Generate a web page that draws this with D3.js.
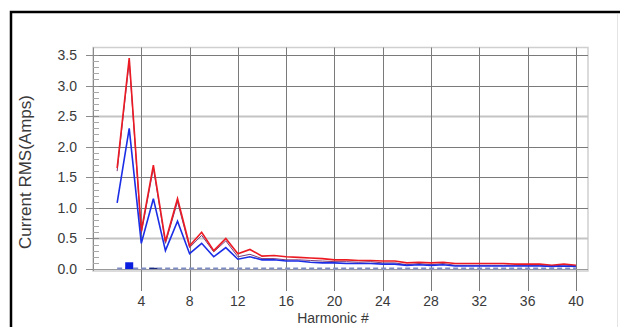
<!DOCTYPE html>
<html>
<head>
<meta charset="utf-8">
<script src="https://cdn.jsdelivr.net/npm/d3@7/dist/d3.min.js"></script>
<style>
  body { margin: 0; background: #fff; }
  svg { display: block; }
  text { font-family: "Liberation Sans", Arial, sans-serif; fill: #3a3a3a; }
</style>
</head>
<body>
<svg id="chart" width="620" height="327"></svg>
<script>
// harmonic numbers 2..40
var harmonics = d3.range(2, 41);
// phase currents (A rms)
var phaseA = [1.65, 3.45, 0.62, 1.70, 0.45, 1.15, 0.38, 0.60, 0.30, 0.50,
  0.25, 0.32, 0.21, 0.22, 0.20, 0.19, 0.18, 0.17, 0.15, 0.15,
  0.14, 0.14, 0.13, 0.13, 0.10, 0.11, 0.10, 0.11, 0.09, 0.09,
  0.09, 0.09, 0.09, 0.08, 0.08, 0.08, 0.06, 0.08, 0.06];
var phaseB = [1.60, 3.40, 0.58, 1.65, 0.42, 1.10, 0.35, 0.55, 0.28, 0.46,
  0.20, 0.24, 0.17, 0.17, 0.15, 0.15, 0.14, 0.13, 0.12, 0.12,
  0.11, 0.12, 0.10, 0.10, 0.07, 0.09, 0.07, 0.09, 0.06, 0.06,
  0.06, 0.06, 0.06, 0.06, 0.06, 0.06, 0.04, 0.07, 0.05];
var phaseC = [1.08, 2.30, 0.42, 1.15, 0.30, 0.78, 0.25, 0.42, 0.20, 0.35,
  0.16, 0.20, 0.15, 0.15, 0.13, 0.13, 0.11, 0.10, 0.10, 0.09,
  0.09, 0.09, 0.08, 0.08, 0.06, 0.07, 0.06, 0.07, 0.05, 0.05,
  0.05, 0.05, 0.05, 0.05, 0.05, 0.05, 0.04, 0.05, 0.04];
var neutral = [0.01, 0.11, 0.01, 0.02, 0.01, 0.01, 0.01, 0.01, 0.01, 0.01,
  0.01, 0.01, 0.01, 0.01, 0.01, 0.01, 0.01, 0.01, 0.01, 0.01,
  0.01, 0.01, 0.01, 0.01, 0.01, 0.01, 0.01, 0.01, 0.01, 0.01,
  0.01, 0.01, 0.01, 0.01, 0.01, 0.01, 0.01, 0.01, 0.01];
var xTicks = [4, 8, 12, 16, 20, 24, 28, 32, 36, 40];
var yTicks = [0, 0.5, 1, 1.5, 2, 2.5, 3, 3.5];

var svg = d3.select("#chart");
var x = d3.scaleLinear().domain([0, 41]).range([93, 588]);
var y = d3.scaleLinear().domain([0, 3.5]).range([269, 55]);
var plotTop = 47.5, plotBottom = 271;
var snap = function(v) { return Math.round(v) + 0.5; };

// outer frame
svg.append("rect").attr("x", 11).attr("y", 12).attr("width", 640).attr("height", 340)
  .attr("fill", "none").attr("stroke", "#000").attr("stroke-width", 2.5);
svg.append("line").attr("x1", 617.5).attr("x2", 617.5).attr("y1", 14).attr("y2", 327)
  .attr("stroke", "#e4e4e4");

// plot frame
svg.append("rect").attr("x", x.range()[0]).attr("y", plotTop)
  .attr("width", x.range()[1] - x.range()[0]).attr("height", plotBottom - plotTop)
  .attr("fill", "none").attr("stroke", "#cfcfcf").attr("stroke-width", 1.5);

// horizontal grid
svg.append("g").selectAll("line").data(yTicks.slice(1)).join("line")
  .attr("x1", x.range()[0]).attr("x2", x.range()[1])
  .attr("y1", function(d) { return snap(y(d)); })
  .attr("y2", function(d) { return snap(y(d)); })
  .attr("stroke", function(d) { return d === 2.5 || d === 0.5 ? "#c4c4c4" : "#7a7a7a"; })
  .attr("stroke-width", function(d) { return d === 2.5 || d === 0.5 ? 2 : 1; });

// vertical grid, running down through the tick area
svg.append("g").selectAll("line").data(xTicks).join("line")
  .attr("x1", function(d) { return snap(x(d)); })
  .attr("x2", function(d) { return snap(x(d)); })
  .attr("y1", plotTop).attr("y2", 291)
  .attr("stroke", "#7a7a7a");

// y axis with minor ticks
var yAxis = svg.append("g").attr("transform", "translate(" + x.range()[0] + ",0)");
yAxis.append("line").attr("x1", 0.5).attr("x2", 0.5).attr("y1", plotTop).attr("y2", plotBottom)
  .attr("stroke", "#8a8a8a");
yAxis.selectAll(".minor").data(d3.range(0, 3.55, 0.1)).join("line")
  .attr("class", "minor")
  .attr("x1", 0).attr("x2", 6)
  .attr("y1", function(d) { return snap(y(d)); })
  .attr("y2", function(d) { return snap(y(d)); })
  .attr("stroke", "#a8a8a8");
yAxis.selectAll(".major").data(yTicks).join("line")
  .attr("class", "major")
  .attr("x1", -7).attr("x2", 6)
  .attr("y1", function(d) { return snap(y(d)); })
  .attr("y2", function(d) { return snap(y(d)); })
  .attr("stroke", "#8a8a8a");
yAxis.selectAll("text").data(yTicks).join("text")
  .attr("x", -16).attr("y", function(d) { return y(d); })
  .attr("dy", "0.36em").attr("text-anchor", "end")
  .style("font-size", "14px")
  .text(d3.format(".1f"));

// x axis line (baseline) and labels
svg.append("line").attr("x1", x.range()[0]).attr("x2", x.range()[1])
  .attr("y1", y(0) + 0.5).attr("y2", y(0) + 0.5).attr("stroke", "#9a9a9a");
svg.append("g").selectAll("text").data(xTicks).join("text")
  .attr("x", function(d) { return x(d); }).attr("y", 306)
  .attr("text-anchor", "middle").style("font-size", "14px")
  .text(function(d) { return d; });

// axis titles
svg.append("text").attr("x", 333).attr("y", 323).attr("text-anchor", "middle")
  .style("font-size", "14px").text("Harmonic #");
svg.append("text").attr("transform", "translate(31,172) rotate(-90)")
  .attr("text-anchor", "middle").style("font-size", "17px").text("Current RMS(Amps)");

// neutral current: dashed trace and bars
svg.append("path").datum(harmonics)
  .attr("fill", "none").attr("stroke", "#7f8cc4").attr("stroke-width", 2)
  .attr("stroke-dasharray", "5,3")
  .attr("d", d3.line().x(function(h) { return x(h); }).y(function() { return y(0) - 0.5; }));
svg.append("g").selectAll("rect").data(harmonics.filter(function(h, i) { return neutral[i] > 0.015; }))
  .join("rect")
  .attr("x", function(h) { return x(h) - 4; })
  .attr("width", 8)
  .attr("y", function(h) { return y(neutral[h - 2]); })
  .attr("height", function(h) { return y(0) - y(neutral[h - 2]); })
  .attr("fill", function(h) { return h === 3 ? "#0a1ee0" : "#1a2a80"; });

// phase lines
var line = function(vals) {
  return d3.line()
    .x(function(h) { return x(h); })
    .y(function(h, i) { return y(vals[i]); })(harmonics);
};
svg.append("path").attr("d", line(phaseB)).attr("fill", "none")
  .attr("stroke", "#7a3a7a").attr("stroke-width", 1);
svg.append("path").attr("d", line(phaseA)).attr("fill", "none")
  .attr("stroke", "#ec1a22").attr("stroke-width", 1.6);
svg.append("path").attr("d", line(phaseC)).attr("fill", "none")
  .attr("stroke", "#1b2ee6").attr("stroke-width", 1.6);
</script>
</body>
</html>
